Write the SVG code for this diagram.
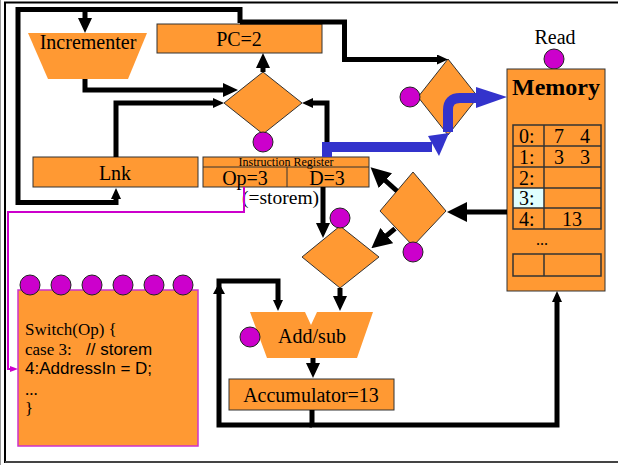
<svg xmlns="http://www.w3.org/2000/svg" width="618" height="465" viewBox="0 0 618 465">
<style>
.box{fill:#FF9933;stroke:#333;stroke-width:1}
.shape{fill:#FF9933;stroke:none}
.dot{fill:#CC00CC;stroke:#222;stroke-width:1}
.w{fill:none;stroke:#000;stroke-width:5}
.blue{fill:none;stroke:#3333CC;stroke-width:10}
.t{font-family:"Liberation Serif","Times New Roman",serif;fill:#000}
.s{font-family:"Liberation Sans",Arial,sans-serif;fill:#000}
.cell{fill:none;stroke:#333;stroke-width:1.5}
</style>
<defs>
<marker id="as" markerUnits="userSpaceOnUse" markerWidth="11" markerHeight="10" refX="1" refY="5" orient="auto"><path d="M0,0 L11,5 L0,10 z" fill="#000"/></marker>
<marker id="am" markerUnits="userSpaceOnUse" markerWidth="15" markerHeight="14" refX="1" refY="7" orient="auto"><path d="M0,0 L15,7 L0,14 z" fill="#000"/></marker>
<marker id="al" markerUnits="userSpaceOnUse" markerWidth="20" markerHeight="20" refX="1" refY="10" orient="auto"><path d="M0,0 L20,10 L0,20 z" fill="#000"/></marker>
<marker id="amg" markerUnits="userSpaceOnUse" markerWidth="8" markerHeight="6" refX="1" refY="3" orient="auto"><path d="M0,0 L8,3 L0,6 z" fill="#CC00CC"/></marker>
</defs>
<rect width="618" height="465" fill="#fff"/>
<line x1="0.5" y1="0" x2="0.5" y2="465" stroke="#999" stroke-width="1"/>
<rect x="5" y="2.5" width="640" height="459.5" fill="none" stroke="#000" stroke-width="2"/>
<line x1="5" y1="462" x2="618" y2="462" stroke="#444" stroke-width="2"/>

<g id="incrementer">
<polygon class="shape" points="28,33 147,33 128,79 48,79"/>
<text class="t" x="88" y="49" font-size="20" text-anchor="middle">Incrementer</text>
</g>
<g id="pc">
<rect class="box" x="157" y="24" width="165" height="29"/>
<text class="t" x="239" y="46" font-size="20" text-anchor="middle">PC=2</text>
</g>
<g id="pc-mux">
<polygon class="box" points="263,72 302,103 263,134 224,103"/>
<circle class="dot" cx="263" cy="142" r="10"/>
</g>
<g id="addr-mux">
<polygon class="box" points="448,59 478,97 448,135 418,97"/>
<circle class="dot" cx="410" cy="97" r="10"/>
</g>
<g id="lnk">
<rect class="box" x="33" y="157" width="165" height="30"/>
<text class="t" x="115" y="180" font-size="20" text-anchor="middle">Lnk</text>
</g>
<g id="ir">
<rect class="box" x="203" y="157" width="166" height="30"/>
<line x1="203" y1="167" x2="369" y2="167" stroke="#333" stroke-width="1"/>
<line x1="287" y1="167" x2="287" y2="187" stroke="#333" stroke-width="1"/>
<text class="t" x="286" y="166" font-size="12" text-anchor="middle" fill="#222">Instruction Register</text>
<text class="t" x="245" y="185" font-size="20" text-anchor="middle">Op=3</text>
<text class="t" x="327" y="185" font-size="20" text-anchor="middle">D=3</text>
</g>
<g id="storem-label">
<text class="t" x="242" y="204" font-size="19.5">(=storem)</text>
</g>
<g id="memory">
<text class="t" x="555" y="44" font-size="20" text-anchor="middle">Read</text>
<circle class="dot" cx="554" cy="59" r="10"/>
<rect class="box" x="507" y="69" width="98" height="222"/>
<text class="t" x="556" y="95" font-size="24" font-weight="bold" text-anchor="middle">Memory</text>
<rect x="513" y="188" width="31" height="20" fill="#E0FFFF"/>
<rect class="cell" x="513" y="125" width="88" height="104"/>
<line class="cell" x1="513" y1="146" x2="601" y2="146"/>
<line class="cell" x1="513" y1="167" x2="601" y2="167"/>
<line class="cell" x1="513" y1="188" x2="601" y2="188"/>
<line class="cell" x1="513" y1="208" x2="601" y2="208"/>
<line class="cell" x1="544" y1="125" x2="544" y2="229"/>
<rect class="cell" x="513" y="254" width="88" height="22"/>
<line class="cell" x1="544" y1="254" x2="544" y2="276"/>
<g class="t" font-size="20">
<text x="519" y="143">0:</text>
<text x="519" y="164">1:</text>
<text x="519" y="185">2:</text>
<text x="519" y="205">3:</text>
<text x="519" y="226">4:</text>
<text x="559" y="143" text-anchor="middle">7</text>
<text x="585" y="143" text-anchor="middle">4</text>
<text x="559" y="164" text-anchor="middle">3</text>
<text x="585" y="164" text-anchor="middle">3</text>
<text x="572" y="226" text-anchor="middle">13</text>
<text x="542" y="245" text-anchor="middle" font-size="16">...</text>
</g>
</g>
<g id="data-mux">
<polygon class="box" points="413,172 446,211 413,246 380,211"/>
<circle class="dot" cx="413" cy="252" r="10"/>
</g>
<g id="alu-mux">
<polygon class="box" points="340,226 379,257 340,288 302,257"/>
<circle class="dot" cx="340" cy="218" r="10"/>
</g>
<g id="addsub">
<polygon class="shape" points="250,312 305,312 311,325 317,312 373,312 357,358 267,358"/>
<circle class="dot" cx="250" cy="337" r="10"/>
<text class="t" x="312" y="343" font-size="20" text-anchor="middle">Add/sub</text>
</g>
<g id="accumulator">
<rect class="box" x="229" y="379" width="165" height="31"/>
<text class="t" x="311" y="402" font-size="20" text-anchor="middle">Accumulator=13</text>
</g>
<g id="switch">
<rect x="18" y="290" width="180" height="156" fill="#FF9933" stroke="#CC33CC" stroke-width="1.5"/>
<circle class="dot" cx="30" cy="285" r="10"/>
<circle class="dot" cx="61" cy="285" r="10"/>
<circle class="dot" cx="92" cy="285" r="10"/>
<circle class="dot" cx="123" cy="285" r="10"/>
<circle class="dot" cx="154" cy="285" r="10"/>
<circle class="dot" cx="183" cy="285" r="10"/>
<text class="t" x="25" y="335" font-size="17">Switch(Op) {</text>
<text x="25" y="355" font-size="17"><tspan class="t">case 3:</tspan><tspan class="s" x="86">// storem</tspan></text>
<text class="s" x="25" y="374" font-size="17">4:AddressIn = D;</text>
<text class="t" x="25" y="395" font-size="17">...</text>
<text class="t" x="25" y="414" font-size="17">}</text>
</g>

<g id="connectors">
<path class="w" d="M240,23 V9.5 H18 V202.5 H116 V198" marker-end="url(#as)"/>
<path class="w" d="M85,9.5 V19" marker-end="url(#am)"/>
<path class="w" d="M240,22 H344.5 V59.5 H438" marker-end="url(#as)"/>
<path class="w" d="M85,79 V90 H224" marker-end="url(#am)"/>
<path class="w" d="M116,157 V103 H214" marker-end="url(#as)"/>
<path class="w" d="M327,157 V103 H312" marker-end="url(#as)"/>
<path class="w" d="M263,72 V67" marker-end="url(#am)"/>
<path class="w" d="M323,187 V224" marker-end="url(#am)"/>
<path class="w" d="M397,191 L384.7,180" marker-end="url(#al)"/>
<path class="w" d="M395,228.7 L386,236.2" marker-end="url(#al)"/>
<path class="w" d="M507,212 H466" marker-end="url(#al)"/>
<path class="w" d="M340,288 V297" marker-end="url(#am)"/>
<path class="w" d="M313,358 V364" marker-end="url(#am)"/>
<path class="w" d="M312,410 V425 H557 V301" marker-end="url(#as)"/>
<path class="w" d="M312,425 H219 V281 H278 V301" marker-end="url(#as)"/>
<polygon points="213,294 219,283 225,294" fill="#000"/>
<path class="blue" d="M327,157 V147 H432"/>
<polygon points="428,136 449,133 439,156" fill="#3333CC"/>
<path class="blue" d="M448,132 V110 Q448,98 460,98 H479"/>
<polygon points="476,87 507,97 476,108" fill="#3333CC"/>
<path d="M244,187 V212 H8 V369 H11" fill="none" stroke="#CC00CC" stroke-width="2" marker-end="url(#amg)"/>
</g>
</svg>
